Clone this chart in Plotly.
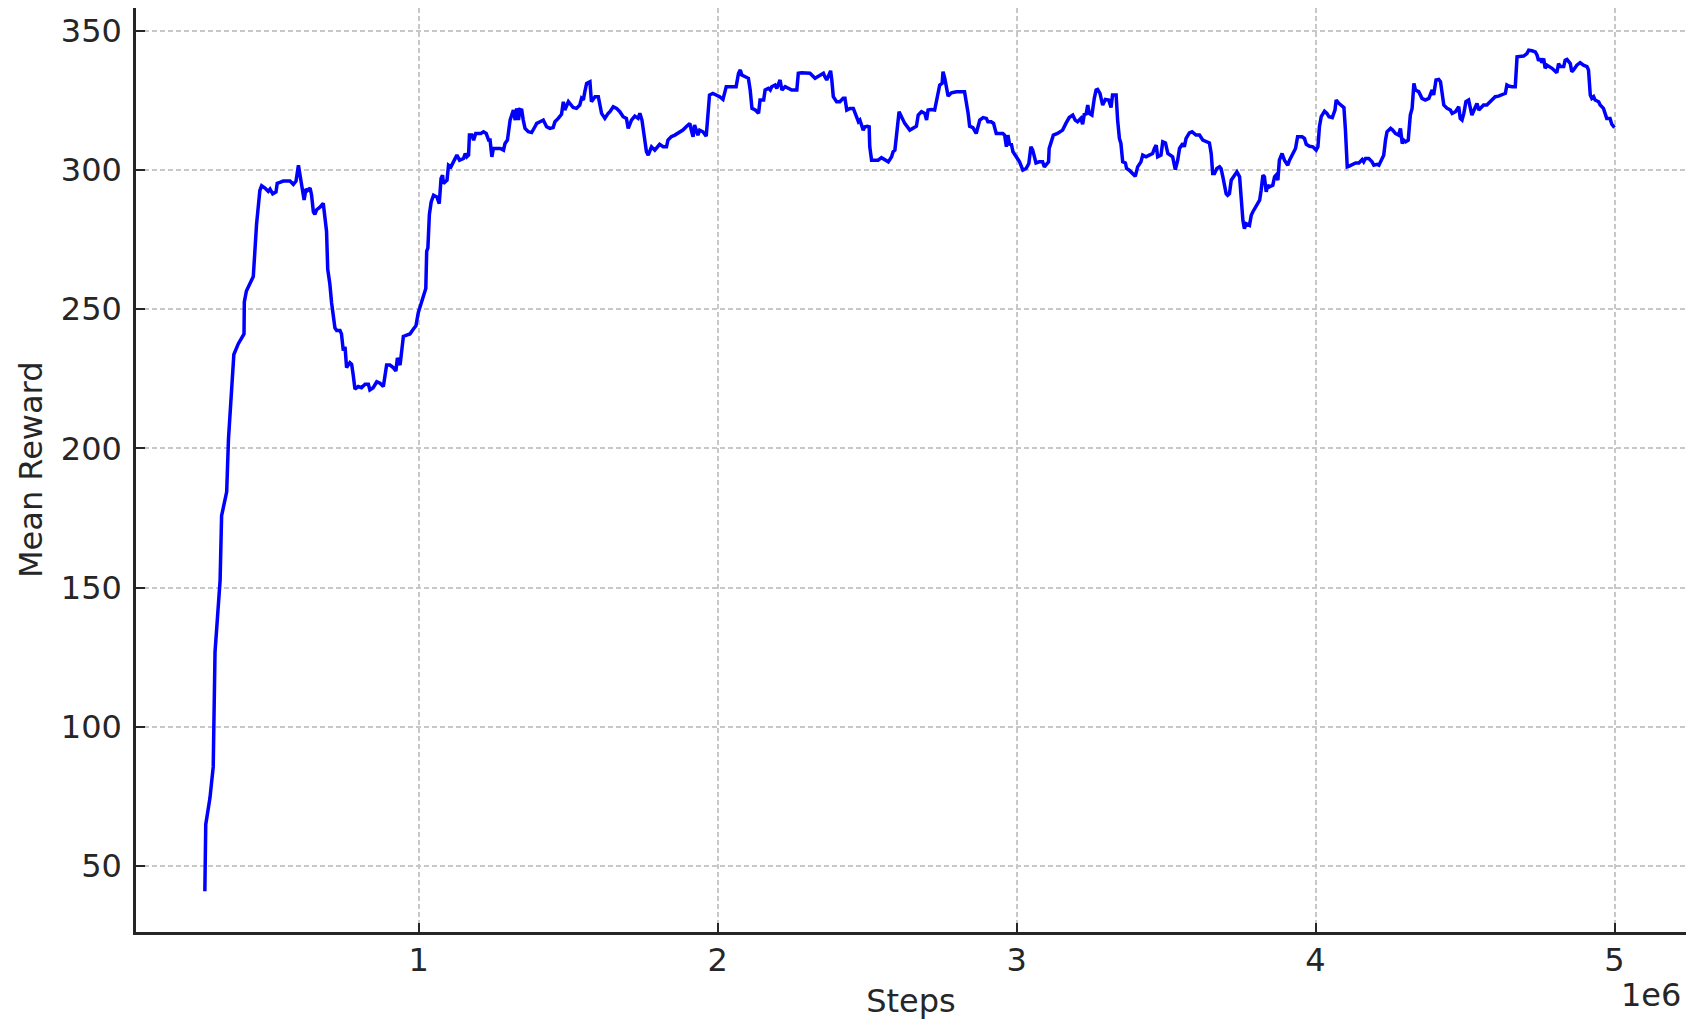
import plotly.graph_objects as go

# training curve, steps in millions
steps_m = [
    0.285, 0.288, 0.302, 0.313, 0.319, 0.324, 0.336, 0.341, 0.358, 0.364,
    0.375, 0.382, 0.397, 0.416, 0.417, 0.424, 0.447, 0.455, 0.458, 0.469,
    0.475, 0.486, 0.497, 0.503, 0.512, 0.523, 0.527, 0.536, 0.547, 0.559,
    0.570, 0.581, 0.590, 0.598, 0.603, 0.609, 0.617, 0.623, 0.628, 0.637,
    0.642, 0.648, 0.653, 0.659, 0.670, 0.681, 0.687, 0.692, 0.696, 0.703,
    0.709, 0.715, 0.720, 0.726, 0.737, 0.742, 0.748, 0.754, 0.759, 0.770,
    0.776, 0.781, 0.787, 0.798, 0.809, 0.821, 0.832, 0.837, 0.848, 0.860,
    0.871, 0.882, 0.887, 0.893, 0.904, 0.915, 0.924, 0.929, 0.938, 0.943,
    0.949, 0.960, 0.971, 0.982, 0.991, 0.999, 1.010, 1.024, 1.027, 1.031,
    1.036, 1.042, 1.050,
    1.061, 1.069, 1.075, 1.080, 1.083, 1.095, 1.100, 1.108, 1.117, 1.128,
    1.137, 1.150, 1.156, 1.161, 1.167, 1.170, 1.178, 1.184, 1.191, 1.200,
    1.208, 1.217, 1.226, 1.234, 1.239, 1.245, 1.250, 1.261, 1.273, 1.284,
    1.289, 1.297, 1.306, 1.317, 1.323, 1.328, 1.334, 1.339, 1.345, 1.350,
    1.356, 1.367, 1.378, 1.389, 1.395, 1.406, 1.417, 1.428, 1.439, 1.450,
    1.456, 1.467, 1.478, 1.484, 1.489, 1.501, 1.512, 1.517, 1.528, 1.539,
    1.545, 1.551, 1.556, 1.562, 1.573, 1.578, 1.590, 1.601, 1.612, 1.623,
    1.634, 1.640, 1.651, 1.662, 1.673, 1.684, 1.695, 1.701, 1.712, 1.723,
    1.734, 1.740, 1.747, 1.756, 1.762, 1.768, 1.779, 1.790, 1.801, 1.806,
    1.818, 1.829, 1.834, 1.845, 1.857, 1.868, 1.884, 1.895, 1.907, 1.912,
    1.918, 1.923, 1.929, 1.934, 1.940, 1.951, 1.962, 1.968, 1.973, 1.984,
    1.996, 2.007, 2.018, 2.029, 2.038,
    2.053, 2.062, 2.070, 2.076, 2.081, 2.092, 2.103, 2.109, 2.115, 2.126,
    2.137, 2.142, 2.154, 2.159, 2.170, 2.176, 2.181, 2.192, 2.198, 2.209,
    2.215, 2.226, 2.237, 2.248, 2.265, 2.270, 2.281, 2.298, 2.309, 2.326,
    2.337, 2.354, 2.359, 2.365, 2.370, 2.378, 2.382, 2.387, 2.398, 2.409,
    2.420, 2.426, 2.432, 2.443, 2.454, 2.465, 2.471, 2.476, 2.482, 2.487,
    2.493, 2.501, 2.507, 2.509, 2.515, 2.526, 2.537, 2.548, 2.560, 2.571,
    2.582, 2.587, 2.593, 2.598, 2.607, 2.615, 2.626, 2.643, 2.654, 2.665,
    2.671, 2.682, 2.693, 2.699, 2.704, 2.715, 2.726, 2.737, 2.743, 2.751,
    2.754, 2.760, 2.765, 2.771, 2.782, 2.799, 2.815, 2.826, 2.838, 2.843,
    2.854, 2.865, 2.877, 2.888, 2.899, 2.904, 2.915, 2.923, 2.932, 2.943,
    2.954, 2.960, 2.966, 2.971, 2.977, 2.982, 2.988, 2.999, 3.010, 3.021,
    3.032, 3.041,
    3.048, 3.054, 3.059, 3.065, 3.076, 3.087, 3.093, 3.098, 3.107, 3.109,
    3.115, 3.123, 3.137, 3.154, 3.165, 3.176, 3.188, 3.196, 3.204, 3.210,
    3.215, 3.221, 3.227, 3.232, 3.238, 3.243, 3.252, 3.260, 3.266, 3.271,
    3.279, 3.288, 3.297, 3.308, 3.316, 3.321, 3.333, 3.338, 3.344, 3.349,
    3.355, 3.364, 3.368, 3.377, 3.388, 3.397, 3.405, 3.416, 3.422, 3.433,
    3.444, 3.455, 3.461, 3.467, 3.472, 3.483, 3.489, 3.498, 3.506, 3.517,
    3.522, 3.531, 3.539, 3.545, 3.556, 3.561, 3.567, 3.578, 3.587, 3.600,
    3.612, 3.623, 3.634, 3.645, 3.651, 3.656, 3.662, 3.670, 3.679, 3.684,
    3.690, 3.695, 3.701, 3.706, 3.712, 3.718, 3.729, 3.737, 3.746, 3.751,
    3.757, 3.762, 3.768, 3.779, 3.785, 3.790, 3.801, 3.813, 3.818, 3.824,
    3.829, 3.835, 3.840, 3.846, 3.857, 3.863, 3.868, 3.874, 3.879, 3.888,
    3.896, 3.907, 3.913, 3.924, 3.933, 3.940, 3.955, 3.963, 3.969, 3.980,
    3.991, 4.002, 4.008, 4.013, 4.019, 4.030, 4.038, 4.045,
    4.056, 4.065, 4.069, 4.078, 4.089, 4.095, 4.100, 4.106, 4.111, 4.122,
    4.134, 4.145, 4.156, 4.161, 4.167, 4.178, 4.184, 4.189, 4.195, 4.206,
    4.212, 4.217, 4.228, 4.234, 4.239, 4.251, 4.258, 4.267, 4.278, 4.284,
    4.290, 4.295, 4.301, 4.310, 4.317, 4.323, 4.329, 4.334, 4.345, 4.356,
    4.367, 4.379, 4.384, 4.390, 4.395, 4.403, 4.412, 4.418, 4.429, 4.440,
    4.451, 4.457, 4.468, 4.479, 4.484, 4.490, 4.496, 4.503, 4.512, 4.518,
    4.523, 4.535, 4.540, 4.546, 4.551, 4.562, 4.573, 4.590, 4.601, 4.612,
    4.624, 4.635, 4.640, 4.646, 4.657, 4.668, 4.674, 4.685, 4.696, 4.707,
    4.713, 4.724, 4.735, 4.741, 4.746, 4.752, 4.757, 4.763, 4.768, 4.774,
    4.791, 4.807, 4.813, 4.818, 4.830, 4.835, 4.841, 4.852, 4.857, 4.863,
    4.874, 4.885, 4.896, 4.908, 4.913, 4.919, 4.924, 4.930, 4.935, 4.947,
    4.952, 4.963, 4.969, 4.974, 4.985, 4.991, 5.000,
]

mean_reward = [
    40.9, 64.9, 74.4, 85.6, 126.8, 135.4, 152.6, 175.8, 184.4, 203.3,
    219.6, 233.7, 237.6, 241.1, 252.6, 256.5, 261.7, 279.7, 280.6, 292.6,
    294.3, 293.5, 292.3, 293.1, 291.4, 292.1, 295.2, 295.5, 296.0, 296.0,
    296.0, 294.8, 296.0, 301.7, 298.6, 293.5, 289.2, 293.1, 292.6, 293.5,
    290.9, 284.9, 284.0, 285.7, 286.6, 288.0, 282.3, 278.0, 264.3, 259.1,
    252.2, 246.2, 243.3, 242.3, 242.3, 241.1, 235.1, 236.4, 229.0, 230.8,
    230.2, 226.5, 221.3, 222.2, 221.8, 223.0, 223.0, 221.0, 221.8, 223.9,
    223.4, 222.2, 226.1, 229.9, 229.9, 229.0, 227.8, 232.5, 229.9, 235.1,
    240.2, 240.7, 241.1, 242.8, 244.0, 248.8, 252.2, 257.4, 270.8, 272.0,
    284.0, 288.5, 290.9,
    290.3, 287.9, 296.9, 298.1, 295.1, 296.3, 301.7, 301.1, 302.9, 305.3,
    303.5, 304.1, 305.9, 304.7, 305.3, 312.5, 312.5, 310.7, 313.1, 313.1,
    313.1, 313.7, 313.1, 310.7, 310.7, 304.7, 307.7, 307.7, 307.7, 307.1,
    309.5, 310.7, 317.9, 321.5, 317.9, 322.1, 317.9, 321.7, 321.5, 317.9,
    314.9, 313.7, 313.4, 315.5, 316.7, 317.3, 317.9, 315.5, 314.9, 315.2,
    317.3, 318.5, 320.0, 324.5, 321.5, 324.5, 323.3, 322.4, 322.1, 323.3,
    325.7, 325.1, 328.1, 331.1, 331.7, 324.5, 326.3, 326.3, 320.3, 318.5,
    320.3, 320.9, 322.7, 322.1, 320.9, 319.1, 318.5, 314.9, 317.9, 319.3,
    318.5, 320.3, 317.9, 309.5, 306.5, 305.3, 308.3, 307.1, 308.3, 309.2,
    308.3, 308.3, 310.7, 311.9, 312.5, 313.1, 314.3, 315.5, 316.7, 314.3,
    311.9, 316.1, 314.3, 312.5, 314.3, 313.7, 312.1, 322.1, 326.9, 327.5,
    326.9, 326.3, 325.3, 329.9, 329.9,
    329.9, 329.9, 334.7, 335.9, 334.1, 333.5, 332.9, 328.7, 322.1, 321.5,
    320.3, 325.1, 325.1, 328.7, 329.3, 328.7, 329.9, 330.5, 329.3, 332.3,
    328.7, 329.9, 329.3, 328.7, 328.7, 334.7, 334.9, 334.7, 334.7, 332.9,
    333.7, 334.7, 333.5, 332.3, 333.5, 335.6, 332.3, 326.3, 324.5, 324.5,
    325.7, 325.7, 321.5, 322.1, 322.1, 319.1, 317.3, 317.9, 316.1, 314.3,
    315.5, 315.7, 315.5, 308.3, 303.5, 303.5, 303.5, 304.4, 303.5, 302.9,
    304.7, 306.5, 307.1, 311.3, 320.9, 319.1, 316.7, 314.3, 314.9, 315.7,
    319.7, 320.9, 320.3, 317.9, 321.5, 321.7, 321.5, 326.9, 330.5, 331.1,
    335.3, 332.9, 330.5, 326.5, 327.7, 328.1, 328.1, 328.1, 320.3, 315.7,
    315.2, 313.1, 317.9, 318.8, 318.5, 317.3, 317.3, 316.7, 313.1, 313.1,
    313.1, 312.5, 308.3, 312.5, 308.9, 309.5, 306.5, 304.7, 302.9, 299.9,
    300.5, 302.3,
    308.3, 307.1, 304.7, 302.5, 302.9, 302.9, 301.1, 301.7, 302.9, 307.7,
    310.1, 312.5, 313.1, 314.3, 316.7, 318.8, 319.7, 317.9, 317.3, 317.9,
    318.5, 316.4, 320.3, 319.7, 323.3, 320.3, 319.7, 325.7, 328.7, 328.9,
    327.5, 323.3, 325.3, 325.1, 322.4, 326.9, 326.9, 317.9, 311.3, 309.5,
    302.9, 302.5, 300.5, 299.9, 298.9, 297.7, 301.1, 302.9, 305.3, 304.7,
    305.3, 305.9, 307.7, 308.9, 304.7, 305.3, 310.1, 309.7, 305.9, 305.3,
    304.7, 300.1, 303.5, 307.7, 309.5, 308.3, 311.3, 313.3, 313.7, 312.5,
    312.5, 310.7, 310.1, 309.7, 305.9, 298.7, 298.7, 300.5, 301.1, 300.5,
    297.5, 294.5, 291.5, 290.9, 291.5, 296.3, 298.4, 299.3, 297.5, 290.3,
    281.9, 278.9, 280.7, 280.1, 283.7, 284.9, 286.7, 289.1, 292.7, 298.1,
    297.5, 292.1, 294.5, 293.9, 294.5, 297.5, 298.1, 296.3, 303.5, 305.9,
    303.5, 301.7, 303.5, 305.9, 307.7, 311.9, 311.9, 311.3, 309.2, 308.5,
    308.3, 307.1, 308.3, 315.5, 319.1, 321.1, 320.3, 319.1,
    318.8, 321.5, 325.1, 323.9, 322.7, 322.4, 314.3, 301.1, 301.3, 302.0,
    302.5, 302.5, 303.7, 302.9, 304.1, 304.1, 303.5, 302.9, 301.7, 302.0,
    301.7, 302.9, 305.3, 310.7, 313.7, 314.9, 314.3, 313.1, 312.5, 314.9,
    309.5, 310.7, 310.1, 310.7, 319.7, 322.1, 331.1, 328.7, 328.1, 325.7,
    325.1, 325.7, 326.9, 328.7, 326.9, 332.3, 332.5, 331.7, 323.3, 322.1,
    321.5, 320.3, 320.9, 322.7, 318.5, 317.9, 320.3, 324.5, 325.1, 322.1,
    319.7, 322.7, 323.9, 321.5, 322.1, 323.3, 323.3, 325.1, 326.3, 326.5,
    327.2, 327.5, 330.5, 330.1, 329.9, 329.9, 340.6, 340.6, 340.9, 341.8,
    343.0, 342.8, 342.4, 341.2, 339.2, 340.0, 338.5, 340.0, 336.5, 337.6,
    336.5, 334.9, 338.2, 337.1, 337.1, 339.4, 339.7, 338.2, 335.3, 335.9,
    337.6, 338.5, 337.6, 337.1, 335.9, 326.9, 325.7, 326.3, 325.1, 324.5,
    323.3, 322.1, 319.7, 318.5, 318.5, 316.4, 315.2,
]

x_ticks = [1, 2, 3, 4, 5]
y_ticks = [50, 100, 150, 200, 250, 300, 350]

steps = [s * 1e6 for s in steps_m]

fig = go.Figure()
fig.add_trace(go.Scatter(
    x=steps,
    y=mean_reward,
    mode='lines',
    line=dict(color='#0000ff', width=3.5),
    showlegend=False,
))

font = dict(family='DejaVu Sans', size=32, color='#262626')
axis_common = dict(
    showline=True,
    linecolor='#262626',
    linewidth=2.5,
    ticks='inside',
    ticklen=9,
    tickwidth=2,
    tickcolor='#262626',
    showgrid=True,
    gridcolor='#c8c8c8',
    gridwidth=1.5,
    griddash='5px,3px',
    zeroline=False,
    tickfont=font,
    automargin=False,
)

# page body has an 8px margin, so the figure is sized to fit inside it
fig.update_layout(
    width=1684,
    height=1012,
    paper_bgcolor='white',
    plot_bgcolor='white',
    margin=dict(l=128, r=6, t=0, b=88),
    font=font,
    xaxis=dict(
        axis_common,
        range=[0.0547e6, 5.2391e6],
        tickvals=[t * 1e6 for t in x_ticks],
        ticktext=[str(t) for t in x_ticks],
        ticklabelstandoff=-2,
        title=dict(text='Steps', font=font, standoff=17),
    ),
    yaxis=dict(
        axis_common,
        range=[26.3, 358.15],
        tickvals=y_ticks,
        ticktext=[str(t) for t in y_ticks],
        ticklabelstandoff=5,
    ),
    annotations=[
        # y-axis title, placed by hand since plotly clamps it to the margin
        dict(
            text='Mean Reward', xref='paper', yref='paper', x=0, y=0.5,
            xshift=-105, textangle=-90, xanchor='center', yanchor='middle',
            showarrow=False, font=font,
        ),
        dict(
            text='1e6', xref='paper', yref='paper', x=1.0, y=-0.0703,
            xshift=-3, yshift=2, xanchor='right', yanchor='middle',
            showarrow=False, font=font,
        ),
    ],
)

fig.write_html("out.html")
